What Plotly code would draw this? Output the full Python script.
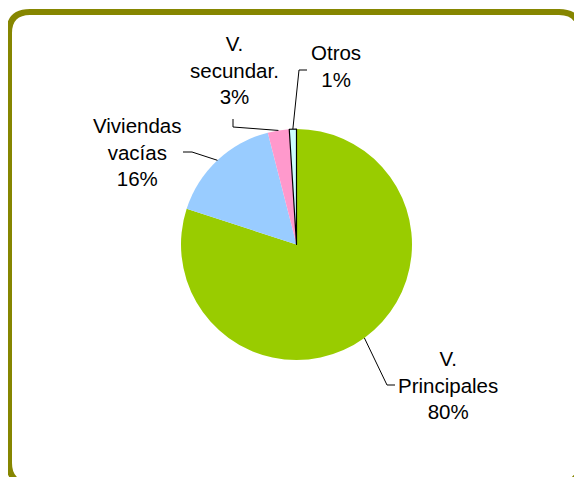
import math
import plotly.graph_objects as go

W, H = 582, 477
OFF = 8  # page body margin offset

# ---- data ----
categories = ["V. Principales", "Viviendas vacías", "V. secundar.", "Otros"]
values = [80, 16, 3, 1]
label_text = ["V.<br>Principales<br>80%", "Viviendas<br>vacías<br>16%",
              "V.<br>secundar.<br>3%", "Otros<br>1%"]
colors = ["#99CC00", "#99CCFF", "#FF99CC", "#CCFFFF"]
line_colors = ["rgba(0,0,0,0)", "rgba(0,0,0,0)", "rgba(0,0,0,0)", "#000000"]
line_widths = [0, 0, 0, 1.2]

# ---- layout geometry (screen pixels) ----
cx, cy, r = 296.5, 244.5, 115.5
label_pos = [(448, 385), (137, 152), (234, 70), (336, 66)]
leader_elbows = [((387, 385), (395, 385)),
                 ((192, 152), (183, 152)),
                 ((233, 127), (233, 119)),
                 ((299, 70), (307, 70))]


def px(x):
    return (x - OFF) / W


def py(y):
    return 1 - (y - OFF) / H


fig = go.Figure()
fig.add_trace(go.Pie(
    labels=categories,
    values=values,
    sort=False,
    direction="clockwise",
    rotation=0,
    textinfo="none",
    hoverinfo="label+percent",
    marker=dict(colors=colors, line=dict(color=line_colors, width=line_widths)),
    domain=dict(x=[px(cx - r), px(cx + r)], y=[py(cy + r), py(cy - r)]),
    showlegend=False,
))

shapes = []
annotations = []
total = sum(values)
cum = 0
for i, v in enumerate(values):
    mid = (cum + v / 2) / total * 2 * math.pi
    cum += v
    sx = cx + r * math.sin(mid)
    sy = cy - r * math.cos(mid)
    (ex, ey), (fx, fy) = leader_elbows[i]
    path = f"M {px(sx)},{py(sy)} L {px(ex)},{py(ey)} L {px(fx)},{py(fy)}"
    shapes.append(dict(type="path", xref="paper", yref="paper", path=path,
                       line=dict(color="#000000", width=1)))
    lx, ly = label_pos[i]
    annotations.append(dict(x=px(lx), y=py(ly), xref="paper", yref="paper",
                            text=label_text[i], showarrow=False,
                            xanchor="center", yanchor="middle", align="center",
                            font=dict(family="Arial, Liberation Sans, sans-serif",
                                      size=20.5, color="#000000")))

# rounded border
L, R, T, B, rr = 9, 580, 12, 484, 21
border = (f"M {px(L+rr)},{py(T)} L {px(R-rr)},{py(T)} Q {px(R)},{py(T)} {px(R)},{py(T+rr)} "
          f"L {px(R)},{py(B-rr)} Q {px(R)},{py(B)} {px(R-rr)},{py(B)} "
          f"L {px(L+rr)},{py(B)} Q {px(L)},{py(B)} {px(L)},{py(B-rr)} "
          f"L {px(L)},{py(T+rr)} Q {px(L)},{py(T)} {px(L+rr)},{py(T)} Z")
shapes.append(dict(type="path", xref="paper", yref="paper", path=border,
                   line=dict(color="#868600", width=6), layer="above"))

fig.update_layout(
    width=W, height=H,
    margin=dict(l=0, r=0, t=0, b=0),
    paper_bgcolor="#FFFFFF",
    plot_bgcolor="#FFFFFF",
    shapes=shapes,
    annotations=annotations,
)

fig.write_html("out.html")
